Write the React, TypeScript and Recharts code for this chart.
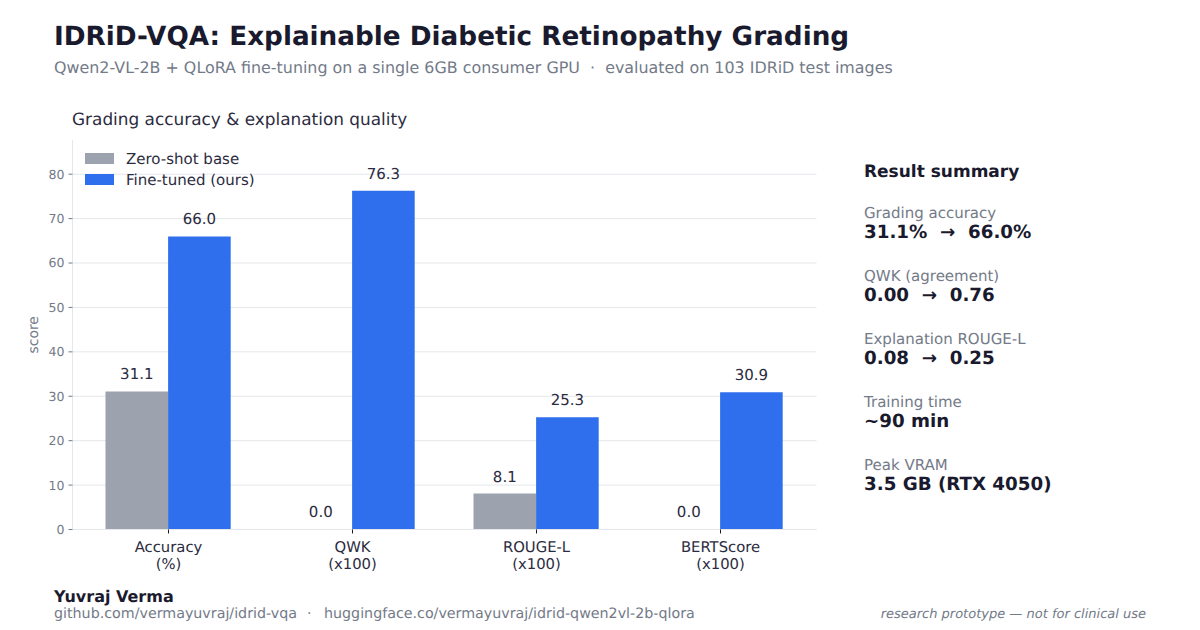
import { BarChart, Bar, CartesianGrid, XAxis, YAxis, Legend, LabelList } from 'recharts'

const FONT = "'DejaVu Sans', sans-serif"
const INK = '#1a1a2e'
const INK_SOFT = '#2b2b40'
const MUTED = '#737a88'
const GRID = '#e5e7eb'
const GREY_BAR = '#9ca3af'
const BLUE_BAR = '#2f6fed'

const CATEGORIES = ['Accuracy\n(%)', 'QWK\n(x100)', 'ROUGE-L\n(x100)', 'BERTScore\n(x100)']
const BASE_VALUES = [31.1, 0, 8.1, 0]
const TUNED_VALUES = [66.0, 76.3, 25.3, 30.9]
const Y_TICKS = [0, 10, 20, 30, 40, 50, 60, 70, 80]

const SUMMARY_LABELS = ['Grading accuracy', 'QWK (agreement)', 'Explanation ROUGE-L', 'Training time', 'Peak VRAM']
const SUMMARY_VALUES = ['31.1%  →  66.0%', '0.00  →  0.76', '0.08  →  0.25', '~90 min', '3.5 GB (RTX 4050)']

const rows = CATEGORIES.map((name, i) => ({ name, base: BASE_VALUES[i], tuned: TUNED_VALUES[i] }))

function CategoryTick({ x, y, payload }: any) {
  const lines = String(payload.value).split('\n')
  return (
    <text x={x} y={y + 14} textAnchor="middle" fontFamily={FONT} fontSize={14.8} fill={INK_SOFT}>
      {lines.map((line, i) => (
        <tspan key={line} x={x} dy={i === 0 ? 0 : 17.5}>{line}</tspan>
      ))}
    </text>
  )
}

function LegendBox({ payload }: any) {
  return (
    <div style={{ fontFamily: FONT, fontSize: 15, color: INK_SOFT }}>
      {payload.map((entry: any) => (
        <div key={entry.value} style={{ display: 'flex', alignItems: 'center', height: 21 }}>
          <span style={{ width: 29, height: 11, background: entry.color, marginRight: 12 }} />
          {entry.value}
        </div>
      ))}
    </div>
  )
}

function ValueLabel({ x, y, width, value }: any) {
  return (
    <text x={x + width / 2} y={y - 12} textAnchor="middle" fontFamily={FONT} fontSize={15} fill={INK_SOFT}>
      {Number(value).toFixed(1)}
    </text>
  )
}

export default function App() {
  return (
    <div style={{ position: 'absolute', left: 0, top: 0, width: 1200, height: 630, background: '#fff', textRendering: 'geometricPrecision' }}>
      <svg width={1200} height={630} style={{ position: 'absolute', left: 0, top: 0 }} fontFamily={FONT}>
        <text x={54} y={45} fontSize={26.27} fontWeight="bold" fill={INK}>IDRiD-VQA: Explainable Diabetic Retinopathy Grading</text>
        <text x={54} y={73} fontSize={15.9} fill={MUTED} xmlSpace="preserve">Qwen2-VL-2B + QLoRA fine-tuning on a single 6GB consumer GPU  ·  evaluated on 103 IDRiD test images</text>
        <text x={72} y={125} fontSize={16.9} fill={INK_SOFT}>Grading accuracy &amp; explanation quality</text>
        <text x={864} y={176.5} fontSize={17} fontWeight="bold" fill={INK}>Result summary</text>
        {SUMMARY_LABELS.map((name, i) => (
          <g key={name}>
            <text x={864} y={218 + i * 63} fontSize={15} fill={MUTED}>{name}</text>
            <text x={864} y={238 + i * 63} fontSize={18.25} fontWeight="bold" fill={INK} xmlSpace="preserve">{SUMMARY_VALUES[i]}</text>
          </g>
        ))}
        <text x={54} y={601.5} fontSize={16} fontWeight="bold" fill={INK}>Yuvraj Verma</text>
        <text x={54} y={618} fontSize={14.25} fill={MUTED}>github.com/vermayuvraj/idrid-vqa</text>
        <text x={307} y={618} fontSize={14.25} fill={MUTED}>·</text>
        <text x={324} y={618} fontSize={14.25} fill={MUTED}>huggingface.co/vermayuvraj/idrid-qwen2vl-2b-qlora</text>
        <text x={1146} y={618} fontSize={13} fontStyle="italic" textAnchor="end" fill={MUTED}>research prototype — not for clinical use</text>
      </svg>
      <div style={{ position: 'absolute', left: 0, top: 0 }}>
        <BarChart
          width={1200}
          height={630}
          data={rows}
          barSize={62.6}
          barGap={0}
          margin={{ top: 140, right: 383.5, bottom: 40.5, left: 22.5 }}
        >
          <CartesianGrid vertical={false} horizontalValues={Y_TICKS} stroke={GRID} />
          <XAxis
            dataKey="name"
            interval={0}
            height={60}
            padding={{ left: 4, right: 4 }}
            stroke={GRID}
            tickSize={4}
            tickMargin={4}
            tickLine={{ stroke: INK }}
            tick={<CategoryTick />}
          />
          <YAxis
            width={50}
            domain={[0, 87.7]}
            ticks={Y_TICKS}
            stroke={GRID}
            tickSize={4}
            tickMargin={4}
            tick={{ fontFamily: FONT, fontSize: 12.5, fill: MUTED }}
            tickLine={{ stroke: MUTED }}
            label={{ value: 'score', angle: -90, position: 'insideLeft', offset: 11, textAnchor: 'middle', fontFamily: FONT, fontSize: 13.9, fill: MUTED }}
          />
          <Legend
            layout="horizontal"
            verticalAlign="middle"
            align="center"
            itemSorter={null}
            wrapperStyle={{ left: 85, top: 148, width: 220 }}
            content={<LegendBox />}
          />
          <Bar dataKey="base" name="Zero-shot base" fill={GREY_BAR} minPointSize={0.01} isAnimationActive={false}>
            <LabelList dataKey="base" content={<ValueLabel />} />
          </Bar>
          <Bar dataKey="tuned" name="Fine-tuned (ours)" fill={BLUE_BAR} isAnimationActive={false}>
            <LabelList dataKey="tuned" content={<ValueLabel />} />
          </Bar>
        </BarChart>
      </div>
    </div>
  )
}
